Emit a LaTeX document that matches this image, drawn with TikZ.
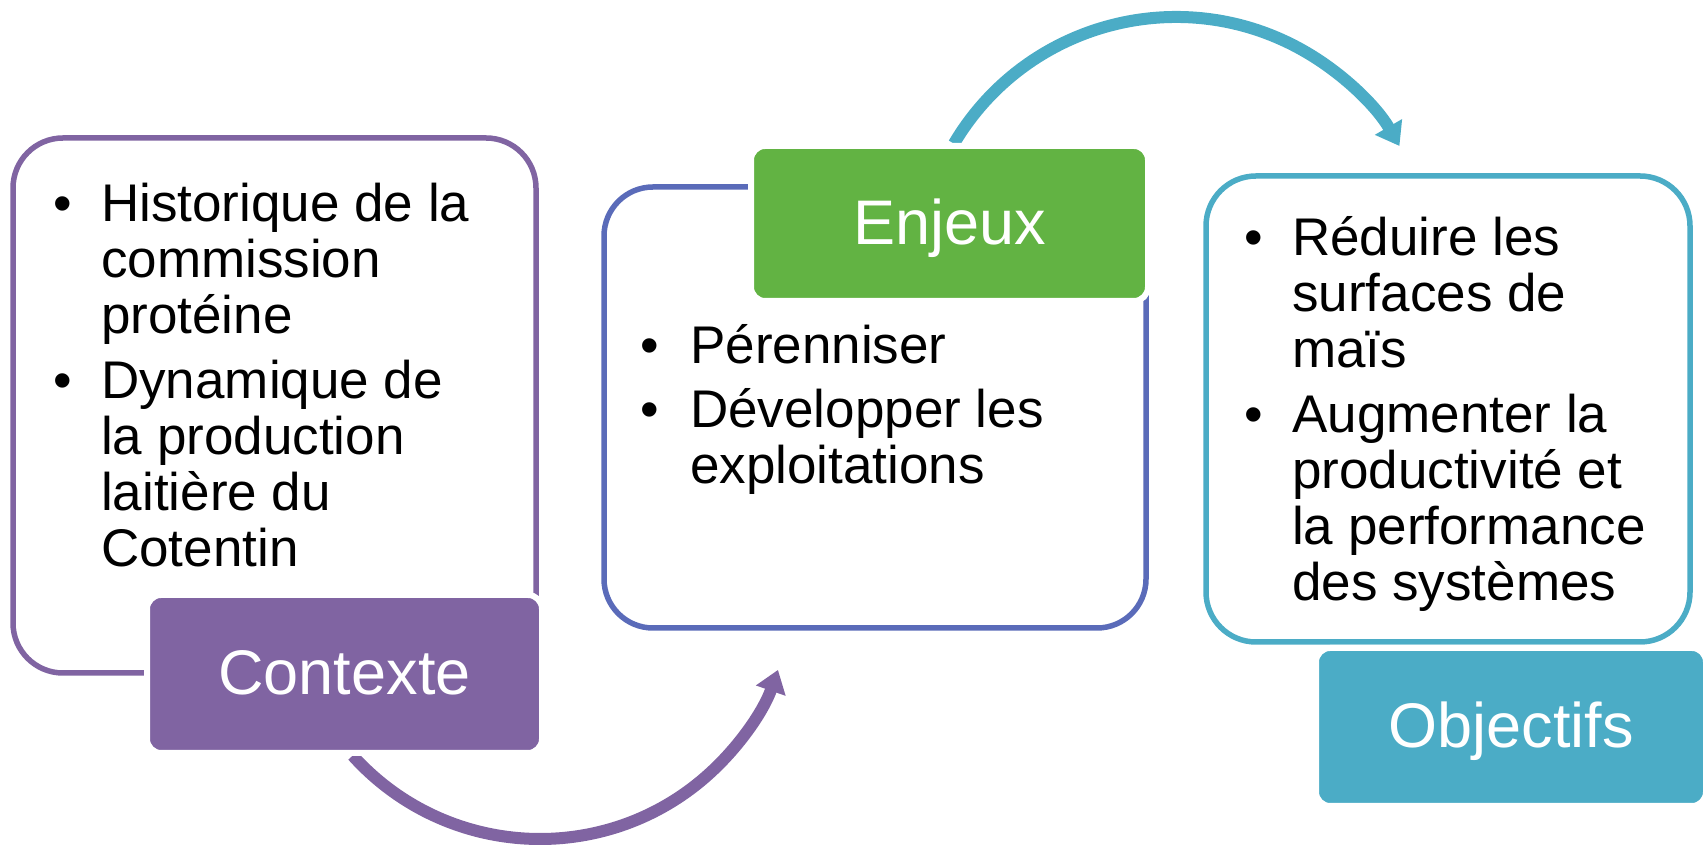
\documentclass[tikz,border=0pt]{standalone}
\usepackage{fontspec}
\setmainfont{Liberation Sans}
\usetikzlibrary{arrows.meta}
\definecolor{purp}{HTML}{8064A2}
\definecolor{grn}{HTML}{62B343}
\definecolor{tealc}{HTML}{4BACC6}
\definecolor{indig}{HTML}{5A6BB9}
\begin{document}
\begin{tikzpicture}[x=1pt,y=1pt,
  cbox/.style={draw, line width=5.5pt, rounded corners=50pt, inner sep=0pt, fill=white},
  lbl/.style={draw=white, line width=6pt, rounded corners=14pt, text=white,
    font=\fontsize{63}{70}\selectfont, text height=42pt, text depth=0pt, inner sep=0pt},
  bt/.style={anchor=base west, inner sep=0pt, font=\fontsize{53}{55.8}\selectfont},
  bl/.style={anchor=base, inner sep=0pt, font=\fontsize{53}{55.8}\selectfont},
  arr/.style={line width=12pt, -{Triangle[width=30pt,length=22pt]}}]
\useasboundingbox (0,0) rectangle (1707,845);

% content boxes
\node[cbox, draw=purp, minimum width=523, minimum height=535] (b1) at (274.5,439.5) {};
\node[cbox, draw=indig, minimum width=542, minimum height=441, rounded corners=49pt] (b2) at (875,437.5) {};
\node[cbox, draw=tealc, minimum width=484, minimum height=466] (b3) at (1448,436) {};

% arc centres
\coordinate (c1) at (540,258);
\coordinate (c2) at (1176,570);

% arrows
\draw[arr, purp] ([shift={(222:252)}]c1) arc[start angle=222, end angle=340.8, radius=252];
\draw[arr, tealc] ([shift={(149.4:258)}]c2) arc[start angle=149.4, end angle=30, radius=258];

% labels
\node[lbl, fill=purp, minimum width=395, minimum height=158] (l1) at (344.5,171) {Contexte};
\node[lbl, fill=grn, minimum width=397, minimum height=155] (l2) at (949.5,621.5) {Enjeux};
\node[lbl, fill=tealc, minimum width=390, minimum height=158] (l3) at (1511,118) {Objectifs};

% box 1 text
\node[bl] (p11) at (63,623) {•};
\node[bt] (t11) at (101,623) {\vtop{\hbox{Historique de la}\hbox{commission}\hbox{protéine}}};
\node[bl] (p12) at (63,446) {•};
\node[bt] (t12) at (101,446) {\vtop{\hbox{Dynamique de}\hbox{la production}\hbox{laitière du}\hbox{Cotentin}}};

% box 2 text
\node[bl] (p21) at (650,481.4) {•};
\node[bt] (t21) at (690,481.4) {Pérenniser};
\node[bl] (p22) at (650,417) {•};
\node[bt] (t22) at (690,417) {\vtop{\hbox{Développer les}\hbox{exploitations}}};

% box 3 text
\node[bl] (p31) at (1254,589) {•};
\node[bt] (t31) at (1292,589) {\vtop{\hbox{Réduire les}\hbox{surfaces de}\hbox{maïs}}};
\node[bl] (p32) at (1254,412) {•};
\node[bt] (t32) at (1292,412) {\vtop{\hbox{Augmenter la}\hbox{productivité et}\hbox{la performance}\hbox{des systèmes}}};
\end{tikzpicture}
\end{document}
